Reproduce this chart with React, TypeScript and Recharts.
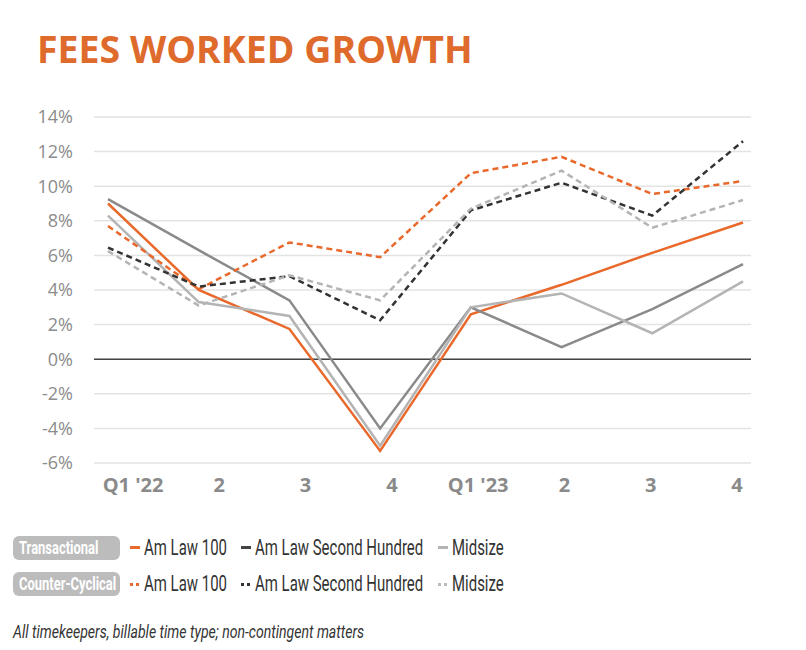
import React from "react";
import {
  LineChart,
  Line,
  XAxis,
  YAxis,
  CartesianGrid,
  ReferenceLine,
} from "recharts";

const quarters = ["Q1 '22", "2", "3", "4", "Q1 '23", "2 ", "3 ", "4 "];

// transactional (solid)
const amLaw100 = [9.0, 4.0, 1.75, -5.3, 2.6, 4.3, 6.15, 7.9];
const secondHundred = [9.25, 6.3, 3.4, -4.0, 3.0, 0.7, 2.9, 5.5];
const midsize = [8.3, 3.3, 2.5, -5.0, 3.0, 3.8, 1.5, 4.5];

// counter-cyclical (dashed)
const amLaw100Cc = [7.7, 4.05, 6.75, 5.9, 10.75, 11.7, 9.55, 10.3];
const secondHundredCc = [6.45, 4.2, 4.8, 2.25, 8.6, 10.2, 8.3, 12.6];
const midsizeCc = [6.25, 3.1, 4.85, 3.4, 8.7, 10.9, 7.6, 9.2];

const yTicks = [-6, -4, -2, 0, 2, 4, 6, 8, 10, 12, 14];

const ORANGE = "#E8692B";
const GREY = "#8a8a8a";
const LIGHT = "#b4b4b4";
const DARK = "#333333";

const data = quarters.map((q, i) => ({
  q,
  amLaw100: amLaw100[i],
  secondHundred: secondHundred[i],
  midsize: midsize[i],
  amLaw100Cc: amLaw100Cc[i],
  secondHundredCc: secondHundredCc[i],
  midsizeCc: midsizeCc[i],
}));

const series = [
  { key: "amLaw100", color: ORANGE, dash: undefined },
  { key: "secondHundred", color: GREY, dash: undefined },
  { key: "midsize", color: LIGHT, dash: undefined },
  { key: "amLaw100Cc", color: ORANGE, dash: "6 4" },
  { key: "secondHundredCc", color: DARK, dash: "6 4" },
  { key: "midsizeCc", color: LIGHT, dash: "6 4" },
];

const font = "Roboto, sans-serif";

// the reference uses a condensed face; squeeze Roboto to match
function Squeezed({ children, scale }: { children: React.ReactNode; scale: number }) {
  return (
    <span
      style={{
        display: "inline-block",
        transform: `scaleX(${scale})`,
        transformOrigin: "left center",
        whiteSpace: "nowrap",
      }}
    >
      {children}
    </span>
  );
}

function Marker({ color, dashed }: { color: string; dashed?: boolean }) {
  if (dashed) {
    return (
      <span style={{ position: "absolute", left: 0, top: 12, width: 10, height: 3 }}>
        <span style={{ position: "absolute", left: 0, width: 3, height: 3, background: color }} />
        <span style={{ position: "absolute", left: 6, width: 3, height: 3, background: color }} />
      </span>
    );
  }
  return (
    <span
      style={{ position: "absolute", left: 0, top: 11, width: 10, height: 3, background: color }}
    />
  );
}

function LegendRow({
  top,
  label,
  dashed,
}: {
  top: number;
  label: string;
  dashed?: boolean;
}) {
  const items = [
    { x: 130, text: "Am Law 100", color: ORANGE },
    { x: 241, text: "Am Law Second Hundred", color: dashed ? DARK : "#444" },
    { x: 438, text: "Midsize", color: dashed ? "#bbb" : LIGHT },
  ];
  return (
    <>
      <div
        style={{
          position: "absolute",
          left: 13,
          top,
          width: 107,
          height: 24,
          borderRadius: 6,
          background: "#bcbcbc",
          color: "#fff",
          fontFamily: font,
          fontWeight: 700,
          fontSize: 18,
          lineHeight: "24px",
          paddingLeft: 6,
          boxSizing: "border-box",
          whiteSpace: "nowrap",
        }}
      >
        <Squeezed scale={0.72}>{label}</Squeezed>
      </div>
      {items.map((it) => (
        <div
          key={it.text}
          style={{
            position: "absolute",
            left: it.x,
            top: top - 1,
            height: 26,
            fontFamily: font,
            fontSize: 22,
            lineHeight: "26px",
            color: "#333",
            whiteSpace: "nowrap",
          }}
        >
          <Marker color={it.color} dashed={dashed} />
          <span style={{ position: "absolute", left: 14, top: 0 }}>
            <Squeezed scale={0.68}>{it.text}</Squeezed>
          </span>
        </div>
      ))}
    </>
  );
}

export default function App() {
  return (
    <div
      style={{
        position: "absolute",
        left: 0,
        top: 0,
        width: 806,
        height: 650,
        background: "#fff",
        overflow: "hidden",
      }}
    >
      <div
        style={{
          position: "absolute",
          left: 37,
          top: 23,
          fontFamily: "'Open Sans', sans-serif",
          fontWeight: 700,
          fontSize: 37.5,
          color: "#DE6A2C",
          whiteSpace: "nowrap",
        }}
      >
        FEES WORKED GROWTH
      </div>

      <div style={{ position: "absolute", left: 0, top: 0 }}>
        <LineChart
          width={806}
          height={520}
          data={data}
          margin={{ top: 117, right: 55, left: 24, bottom: 27 }}
        >
          <CartesianGrid xAxisId="full" vertical={false} stroke="#e3e3e3" strokeWidth={1.5} />
          <XAxis
            xAxisId="labels"
            dataKey="q"
            height={30}
            padding={{ left: 39, right: 14 }}
            axisLine={false}
            tickLine={false}
            interval={0}
            tickMargin={9}
            tick={{
              fill: "#8a8a8a",
              fontSize: 20,
              fontWeight: 700,
              fontFamily: "'Open Sans', sans-serif",
            }}
          />
          <XAxis xAxisId="full" orientation="top" dataKey="q" hide />
          <XAxis
            xAxisId="data"
            orientation="top"
            dataKey="q"
            hide
            padding={{ left: 14, right: 8 }}
          />
          <YAxis
            width={70}
            domain={[-6, 14]}
            ticks={yTicks}
            interval={0}
            axisLine={false}
            tickLine={false}
            tickMargin={15}
            tickFormatter={(v) => `${v}%`}
            tick={{
              fill: "#8c8c8c",
              fontSize: 18,
              fontFamily: "'Open Sans', sans-serif",
            }}
          />
          <ReferenceLine xAxisId="full" y={0} stroke="#444" strokeWidth={1.5} />
          {series.map((s) => (
            <Line
              key={s.key}
              xAxisId="data"
              dataKey={s.key}
              stroke={s.color}
              strokeWidth={2.5}
              strokeDasharray={s.dash}
              dot={false}
              activeDot={false}
              isAnimationActive={false}
            />
          ))}
        </LineChart>
      </div>

      <LegendRow top={536} label="Transactional" />
      <LegendRow top={572} label="Counter-Cyclical" dashed />

      <div
        style={{
          position: "absolute",
          left: 13,
          top: 620,
          fontFamily: font,
          fontStyle: "italic",
          fontSize: 19,
          color: "#333",
          whiteSpace: "nowrap",
        }}
      >
        <Squeezed scale={0.74}>
          All timekeepers, billable time type; non-contingent matters
        </Squeezed>
      </div>
    </div>
  );
}
